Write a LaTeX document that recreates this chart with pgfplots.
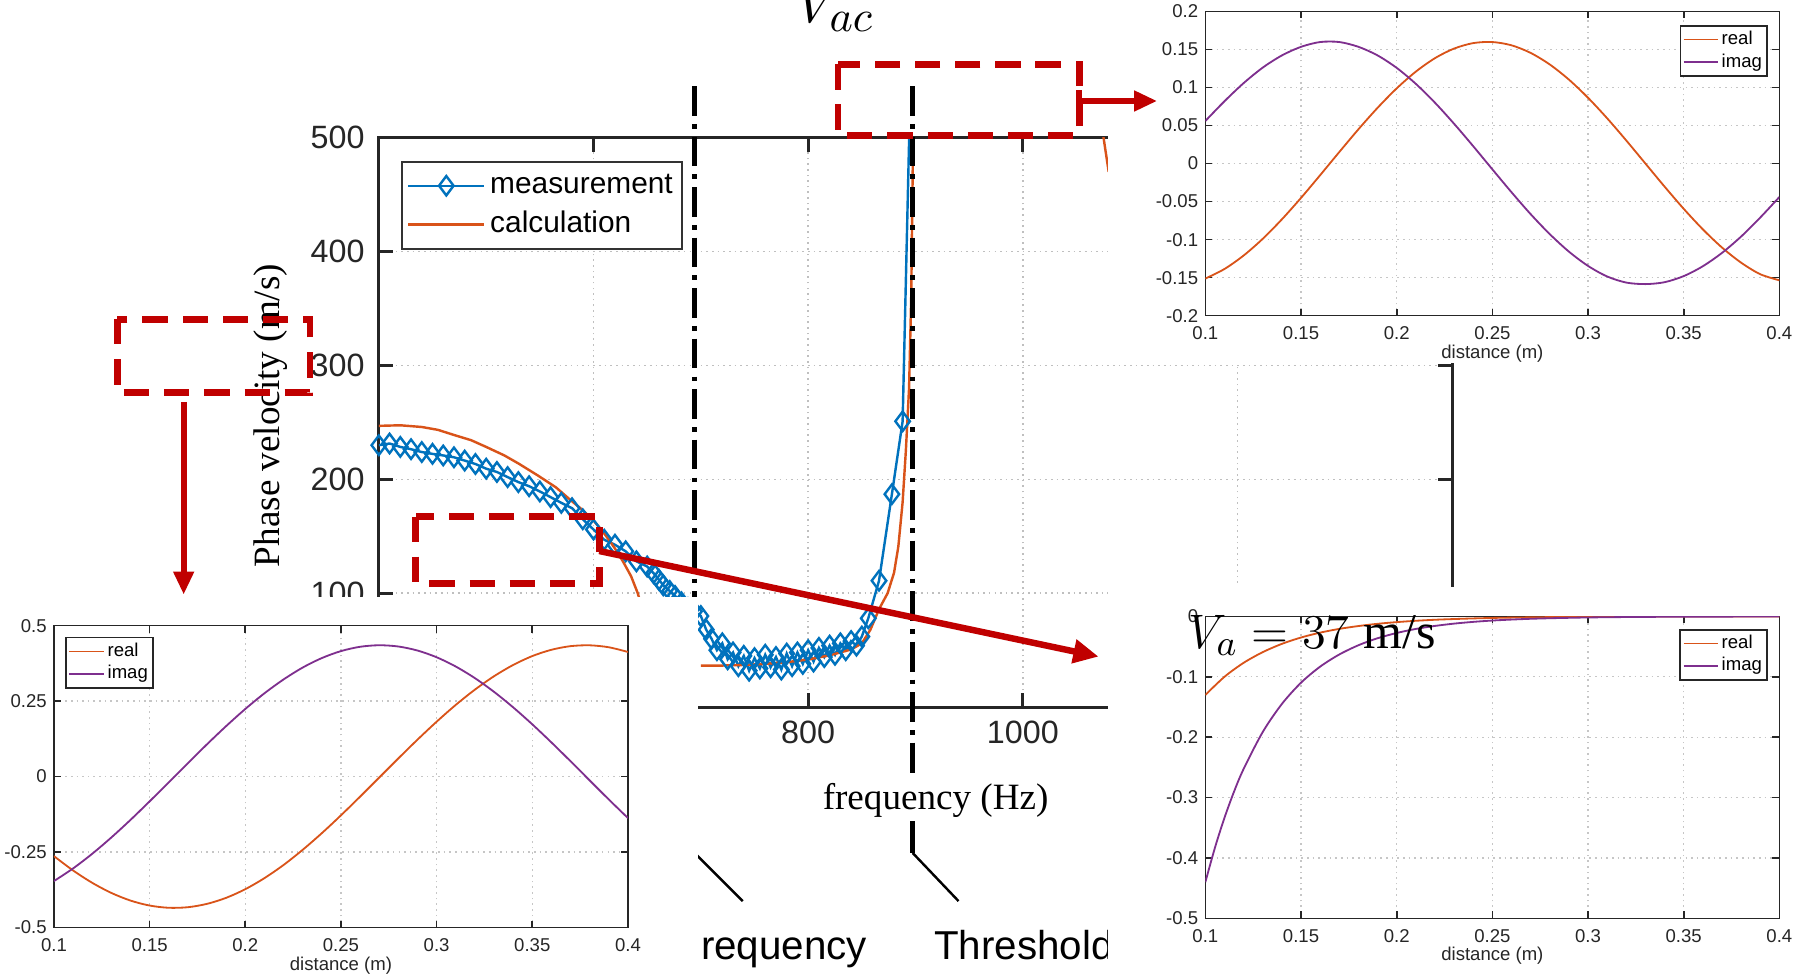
\documentclass[border=0pt]{standalone}
\usepackage{fontspec}
\setmainfont{Liberation Sans}
\newfontfamily\serif{Liberation Serif}
\usepackage{pgfplots}
\pgfplotsset{compat=1.18}
\usetikzlibrary{arrows.meta}

\definecolor{mblue}{RGB}{0,114,189}
\definecolor{morange}{RGB}{217,83,25}
\definecolor{mpurple}{RGB}{126,47,142}
\definecolor{dred}{RGB}{192,0,0}
\definecolor{axgray}{RGB}{38,38,38}

\pgfplotsset{
  inset/.style={
    scale only axis, anchor=south west,
    width=5.0cm, height=2.64cm,
    xmin=0.1, xmax=0.4,
    xtick={0.1,0.15,0.2,0.25,0.3,0.35,0.4},
    xticklabels={0.1,0.15,0.2,0.25,0.3,0.35,0.4},
    grid=major,
    grid style={gray!45, densely dotted, line width=0.3pt},
    axis line style={line width=0.4pt, axgray},
    tick style={axgray, line width=0.4pt},
    tick align=inside, major tick length=0.06cm,
    ticklabel style={font=\fontsize{4.6}{5}\selectfont, text=axgray, inner sep=0.6pt},
    xticklabel style={yshift=-2pt},
    yticklabel style={xshift=-1pt},
    xlabel={distance (m)},
    xlabel style={font=\fontsize{4.6}{5}\selectfont, text=axgray, inner sep=0.3pt,
      at={(axis description cs:0.5,-0.125)}, anchor=center},
    every axis plot/.append style={line width=0.45pt, smooth},
    legend style={font=\fontsize{4.6}{5}\selectfont, draw=axgray, line width=0.35pt,
      inner sep=0.6pt, row sep=0pt,
      nodes={inner sep=0.7pt, text height=3.3pt, text depth=0.9pt}},
    legend cell align=left,
    legend image code/.code={\draw[##1] (0cm,0cm) -- (0.3cm,0cm);},
  },
}

\begin{document}
\begin{tikzpicture}
\fill[white] (0,0) rectangle (15.68,8.5);

% main dispersion plot
\begin{scope}[shift={(3.30,2.34)}]
\begin{axis}[
  anchor=south west, scale only axis,
  width=9.35cm, height=4.96cm,
  xmin=400, xmax=1400, ymin=0, ymax=500,
  xtick={400,600,800,1000,1200,1400},
  xticklabels={400,600,800,1000,1200,1400},
  ytick={0,100,200,300,400,500},
  yticklabels={0,100,200,300,400,500},
  grid=major,
  grid style={gray!50, densely dotted, line width=0.4pt},
  axis line style={line width=0.8pt, axgray},
  tick style={axgray, line width=0.8pt},
  tick align=inside, major tick length=0.12cm,
  ticklabel style={font=\fontsize{8}{9}\selectfont, text=axgray},
  legend style={at={(0.021,0.96)}, anchor=north west,
    font=\fontsize{7.4}{9}\selectfont, draw=black!80, line width=0.5pt,
    inner sep=1.2pt, row sep=0pt,
    nodes={inner sep=1.2pt, text height=5.6pt, text depth=1.6pt}},
  legend cell align=left,
  legend image code/.code={\draw[mark repeat=2,mark phase=2,#1] plot coordinates {(0cm,0cm) (0.33cm,0cm) (0.66cm,0cm)};},
]
\addplot[mblue, line width=0.6pt, mark=diamond, mark size=2.4pt, mark options={solid}] coordinates {
(400,230) (410,231.5) (420,228.5) (430,226.5) (440,224) (450,222.4) (460,221)
(470,219.4) (480,216.5) (490,213.5) (500,209.4) (510,206.5) (520,202) (530,197.6)
(540,194) (550,189.4) (560,184.4) (570,179.4) (580,174.7) (590,165) (600,156)
(610,147) (620,142.6) (630,136.8) (640,128) (650,123.5) (656,117.6) (661,111.8)
(665,107) (671,102) (676,97.6) (682,92) (688,87) (694,84)
(700,80) (705,68) (710,60) (715,50) (720,56) (725,42) (730,48) (735,36) (740,45)
(745,32) (750,43) (755,34) (760,46) (765,35) (770,44) (775,33) (780,47) (785,36)
(790,48) (795,38) (800,50) (805,40) (810,52) (815,44) (820,54) (825,46) (830,56)
(835,50) (840,58) (845,54) (850,62) (856,78) (866,111) (878,187) (888,251) (898,660)
};
\addlegendentry{measurement}
\addplot[morange, line width=0.6pt] coordinates {
(400,247) (420,247.5) (440,246) (455,243.5) (470,239) (486,234.4) (500,228.5)
(517,221) (530,214) (548,203.5) (565,193) (579,181.5) (590,173) (600,163.8)
(608,155) (616,144.7) (622,136.5) (628,127) (635,115) (641,100.6) (646,85) (652,60)
};
\addlegendentry{calculation}
\addplot[morange, line width=0.6pt, forget plot] coordinates {
(700,36.5) (720,36.5) (740,37) (760,38) (780,39.5) (800,41.8) (820,45.5) (840,50.6)
(850,56) (858,68) (866,86) (874,100) (880,118) (884,141) (888,180) (891,225)
(894,280) (896,360) (898,520)
};
\addplot[morange, line width=0.6pt, forget plot] coordinates {(1072,520) (1080,470)};
\end{axis}
\end{scope}

% threshold / cut-off markers
\draw[black, line width=1.1pt, dash pattern=on 0.26cm off 0.07cm on 0.04cm off 0.07cm]
  (6.05,7.75) -- (6.05,1.07);
\draw[black, line width=1.1pt, dash pattern=on 0.26cm off 0.07cm on 0.04cm off 0.07cm]
  (7.95,7.75) -- (7.95,1.38);
\draw[black, line width=1.1pt] (7.95,1.38) -- (7.95,1.07);
\draw[black, line width=0.6pt] (6.05,1.07) -- (6.47,0.65);
\draw[black, line width=0.6pt] (7.95,1.07) -- (8.35,0.65);
\node[anchor=base west, inner sep=0pt, font=\fontsize{10}{12}\selectfont] at (6.10,0.14) {requency};
\node[anchor=base west, inner sep=0pt, font=\fontsize{10}{12}\selectfont] at (8.13,0.14) {Threshold};

% white masks
\fill[white] (9.65,5.34) rectangle (15.68,8.5);
\fill[white] (9.65,0) rectangle (15.68,3.39);
\fill[white] (0,0) rectangle (6.08,3.30);

% inset: top right
\begin{scope}[shift={(10.50,5.75)}]
\begin{axis}[inset, height=2.65cm,
  ymin=-0.2, ymax=0.2,
  ytick={-0.2,-0.15,-0.1,-0.05,0,0.05,0.1,0.15,0.2},
  yticklabels={-0.2,-0.15,-0.1,-0.05,0,0.05,0.1,0.15,0.2},
  legend style={at={(0.98,0.955)}, anchor=north east}]
\addplot[morange] coordinates {
(0.10,-0.1512) (0.11,-0.1386) (0.12,-0.1209) (0.13,-0.0989) (0.14,-0.0733)
(0.15,-0.0451) (0.16,-0.0152) (0.17,0.0152) (0.18,0.0451) (0.19,0.0733)
(0.20,0.0989) (0.21,0.1209) (0.22,0.1386) (0.23,0.1512) (0.24,0.1584)
(0.25,0.1598) (0.26,0.1555) (0.27,0.1455) (0.28,0.1303) (0.29,0.1104)
(0.30,0.0865) (0.31,0.0595) (0.32,0.0303) (0.33,0) (0.34,-0.0303)
(0.35,-0.0595) (0.36,-0.0865) (0.37,-0.1104) (0.38,-0.1303) (0.39,-0.1455)
(0.40,-0.1535)};
\addlegendentry{real}
\addplot[mpurple] coordinates {
(0.10,0.0560) (0.11,0.0820) (0.12,0.1058) (0.13,0.1262) (0.14,0.1422)
(0.15,0.1535) (0.16,0.1598) (0.17,0.1598) (0.18,0.1535) (0.19,0.1422)
(0.20,0.1258) (0.21,0.1048) (0.22,0.0800) (0.23,0.0523) (0.24,0.0228)
(0.25,-0.0076) (0.26,-0.0377) (0.27,-0.0665) (0.28,-0.0928) (0.29,-0.1158)
(0.30,-0.1346) (0.31,-0.1485) (0.32,-0.1565) (0.33,-0.1585) (0.34,-0.1560)
(0.35,-0.1480) (0.36,-0.1350) (0.37,-0.1175) (0.38,-0.0960) (0.39,-0.0710)
(0.40,-0.0440)};
\addlegendentry{imag}
\end{axis}
\end{scope}

% inset: lower left
\begin{scope}[shift={(0.47,0.42)}]
\begin{axis}[inset, height=2.63cm,
  ymin=-0.5, ymax=0.5,
  ytick={-0.5,-0.25,0,0.25,0.5},
  yticklabels={-0.5,-0.25,0,0.25,0.5},
  legend style={at={(0.02,0.962)}, anchor=north west}]
\addplot[morange] coordinates {
(0.10,-0.2635) (0.11,-0.3110) (0.12,-0.3519) (0.13,-0.3854) (0.14,-0.4107)
(0.15,-0.4272) (0.16,-0.4346) (0.17,-0.4327) (0.18,-0.4216) (0.19,-0.4016)
(0.20,-0.3730) (0.21,-0.3364) (0.22,-0.2928) (0.23,-0.2426) (0.24,-0.1875)
(0.25,-0.1284) (0.26,-0.0665) (0.27,-0.0032) (0.28,0.0602) (0.29,0.1223)
(0.30,0.1817) (0.31,0.2374) (0.32,0.2879) (0.33,0.3323) (0.34,0.3696)
(0.35,0.3991) (0.36,0.4200) (0.37,0.4320) (0.38,0.4348) (0.39,0.4283)
(0.40,0.4127)};
\addlegendentry{real}
\addplot[mpurple] coordinates {
(0.10,-0.3461) (0.11,-0.3042) (0.12,-0.2557) (0.13,-0.2017) (0.14,-0.1435)
(0.15,-0.0821) (0.16,-0.0191) (0.17,0.0444) (0.18,0.1070) (0.19,0.1672)
(0.20,0.2239) (0.21,0.2758) (0.22,0.3217) (0.23,0.3611) (0.24,0.3925)
(0.25,0.4156) (0.26,0.4299) (0.27,0.4350) (0.28,0.4308) (0.29,0.4175)
(0.30,0.3952) (0.31,0.3645) (0.32,0.3261) (0.33,0.2807) (0.34,0.2293)
(0.35,0.1731) (0.36,0.1131) (0.37,0.0508) (0.38,-0.0127) (0.39,-0.0759)
(0.40,-0.1374)};
\addlegendentry{imag}
\end{axis}
\end{scope}

% inset: lower right
\begin{scope}[shift={(10.50,0.50)}]
\begin{axis}[inset, height=2.63cm,
  ymin=-0.5, ymax=0,
  ytick={-0.5,-0.4,-0.3,-0.2,-0.1,0},
  yticklabels={-0.5,-0.4,-0.3,-0.2,-0.1,0},
  legend style={at={(0.98,0.958)}, anchor=north east}]
\addplot[morange] coordinates {
(0.10,-0.1300) (0.11,-0.0999) (0.12,-0.0768) (0.13,-0.0591) (0.14,-0.0454)
(0.15,-0.0349) (0.16,-0.0268) (0.17,-0.0206) (0.18,-0.0159) (0.19,-0.0122)
(0.20,-0.0094) (0.21,-0.0072) (0.22,-0.0055) (0.23,-0.0043) (0.24,-0.0033)
(0.25,-0.0025) (0.26,-0.0019) (0.27,-0.0015) (0.28,-0.0011) (0.29,-0.0009)
(0.30,-0.0007) (0.32,-0.0004) (0.34,-0.0002) (0.37,-0.0001) (0.40,0)};
\addlegendentry{real}
\addplot[mpurple] coordinates {
(0.10,-0.4400) (0.105,-0.3830) (0.11,-0.3333) (0.115,-0.2900) (0.12,-0.2525)
(0.13,-0.1913) (0.14,-0.1449) (0.15,-0.1097) (0.16,-0.0831) (0.17,-0.0630)
(0.18,-0.0477) (0.19,-0.0361) (0.20,-0.0274) (0.21,-0.0207) (0.22,-0.0157)
(0.23,-0.0119) (0.24,-0.0090) (0.25,-0.0068) (0.26,-0.0052) (0.27,-0.0039)
(0.28,-0.0030) (0.29,-0.0023) (0.30,-0.0017) (0.32,-0.0010) (0.34,-0.0006)
(0.37,-0.0003) (0.40,-0.0001)};
\addlegendentry{imag}
\end{axis}
\end{scope}

% axis labels of the main plot
\node[rotate=90, inner sep=0pt, font=\serif\fontsize{9.2}{11}\selectfont] at (2.36,4.88) {Phase velocity (m/s)};
\node[fill=white, inner sep=1pt, font=\serif\fontsize{9.2}{11}\selectfont] at (8.15,1.53) {frequency (Hz)};

% red zoom boxes and arrows
\begin{scope}[dred, line width=1.7pt, dash pattern=on 0.22cm off 0.13cm]
\draw (7.30,7.94) rectangle (9.40,7.32);
\draw (1.02,5.72) rectangle (2.70,5.08);
\draw (3.62,4.00) rectangle (5.22,3.42);
\end{scope}
\draw[dred, line width=1.6pt] (9.40,7.52) -- (9.40,7.72);
\draw[dred, line width=1.4pt, -{Triangle[length=0.2cm, width=0.17cm]}] (9.40,7.62) -- (10.08,7.62);
\draw[dred, line width=1.4pt, -{Triangle[length=0.2cm, width=0.17cm]}] (1.60,5.00) -- (1.60,3.32);
\draw[dred, line width=1.6pt, -{Triangle[length=0.22cm, width=0.2cm]}] (5.22,3.70) -- (9.57,2.78);

% formula labels
\begin{pgfinterruptboundingbox}
\begin{scope}
\clip (6.0,7.9) rectangle (8.5,8.5);
\node[anchor=base west, inner sep=0pt, font=\fontsize{15}{17}\selectfont] at (6.93,8.30) {$V_{ac}$};
\end{scope}
\end{pgfinterruptboundingbox}
\node[anchor=base west, inner sep=0pt, font=\fontsize{12.4}{15}\selectfont] at (10.35,2.85) {$V_a = 37\ \mbox{\serif m/s}$};
\end{tikzpicture}
\end{document}
